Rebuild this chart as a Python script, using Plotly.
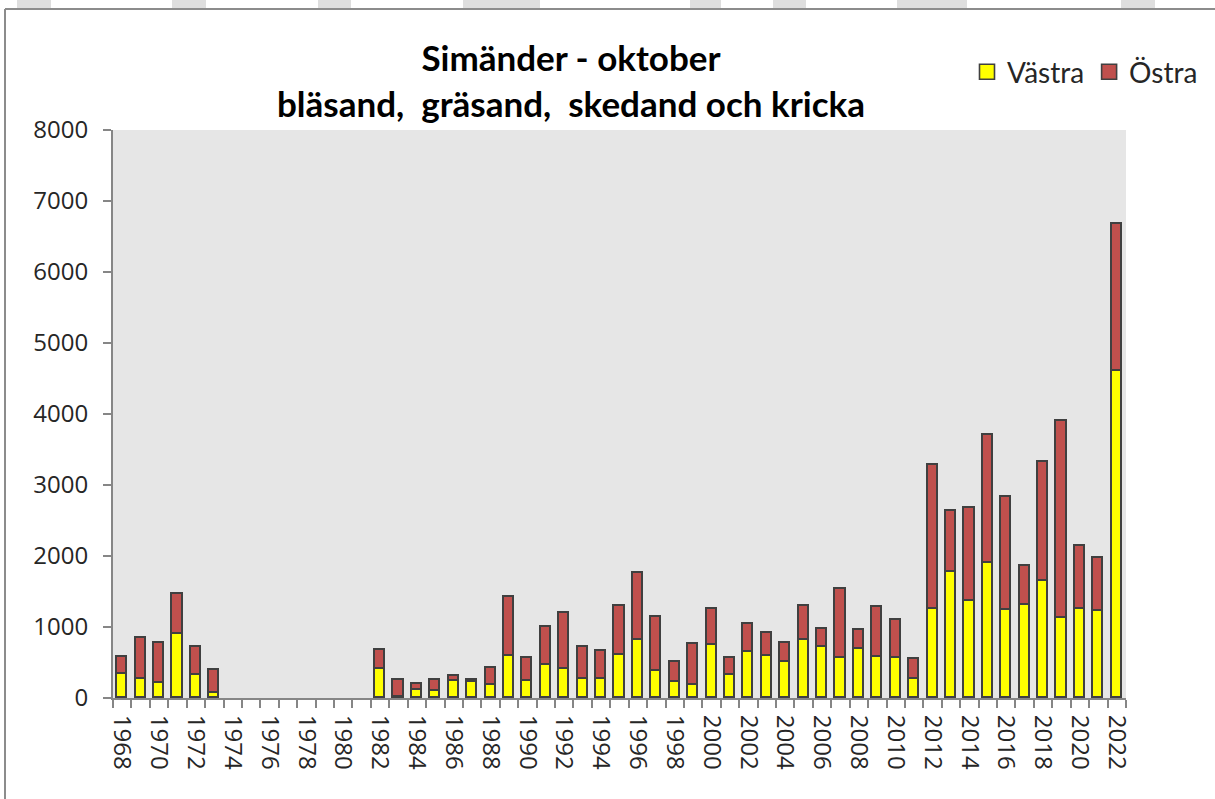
import plotly.graph_objects as go

years = list(range(1968, 2023))
vastra = [342, 272, 215, 904, 318, 75,
          None, None, None, None, None, None, None, None,
          403, 20, 112, 94, 234, 220, 183,
          595, 235, 469, 412, 267, 267, 609, 811, 380, 229,
          183, 741, 323, 651, 595, 506, 811, 724, 560, 689,
          581, 562, 271, 1252, 1776, 1373, 1907, 1238, 1303, 1654,
          1124, 1252, 1232, 4603]
totals = [577, 848, 773, 1467, 722, 398,
          None, None, None, None, None, None, None, None,
          675, 253, 197, 253, 309, 253, 420,
          1425, 558, 994, 1191, 717, 665, 1298, 1754, 1135, 502,
          759, 1247, 558, 1045, 918, 773, 1298, 970, 1535, 952,
          1280, 1097, 553, 3286, 2634, 2672, 3699, 2836, 1861, 3319,
          3900, 2147, 1969, 6681]
ostra = [None if t is None else t - v for t, v in zip(totals, vastra)]
label_years = list(range(1968, 2023, 2))
y_ticks = list(range(0, 8001, 1000))

W, H = 1215, 799
ML, MR, MT, MB = 113, 89, 130, 101
PW, PH = W - ML - MR, H - MT - MB


def fx(px):
    return (px - ML) / PW


def fy(py):
    return (H - MB - py) / PH


outline = dict(color="#404040", width=1.6)
colors = {"Västra": "#FFFF00", "Östra": "#C0504D"}
fig = go.Figure()
for name, vals in [("Västra", vastra), ("Östra", ostra)]:
    fig.add_trace(go.Bar(x=years, y=vals, name=name, legendgroup=name,
                         showlegend=False,
                         marker=dict(color=colors[name], line=outline), width=0.55))
for name in ["Västra", "Östra"]:
    fig.add_trace(go.Scatter(x=[None], y=[None], mode="markers", name=name,
                             legendgroup=name, showlegend=True,
                             marker=dict(symbol="square", size=15, color=colors[name],
                                         line=dict(color="#404040", width=1.6))))

axis_col = "#868686"
tick_font = dict(family="Open Sans, Noto Sans, sans-serif", size=24, color="#262626")

shapes = []
shapes.append(dict(type="line", xref="paper", yref="paper",
                   x0=fx(5), x1=fx(5), y0=fy(9), y1=fy(805),
                   line=dict(color="#8c8c8c", width=2)))
shapes.append(dict(type="line", xref="paper", yref="paper",
                   x0=fx(5), x1=fx(1220), y0=fy(9), y1=fy(9),
                   line=dict(color="#8c8c8c", width=2)))
for a, b in [(17, 51), (172, 206), (318, 351), (463, 540), (690, 721),
             (773, 806), (897, 967), (1121, 1155)]:
    shapes.append(dict(type="rect", xref="paper", yref="paper",
                       x0=fx(a), x1=fx(b), y0=fy(8), y1=fy(-2),
                       fillcolor="#DEDEDE", line=dict(width=0), layer="below"))

fig.update_layout(
    width=W, height=H,
    margin=dict(l=ML, r=MR, t=MT, b=MB),
    barmode="stack",
    paper_bgcolor="white",
    plot_bgcolor="#E6E6E6",
    title=dict(text="Simänder - oktober<br>bläsand,  gräsand,  skedand och kricka",
               font=dict(family="Lato, sans-serif", size=35, color="black", weight="bold"),
               x=571 / W, xanchor="center", xref="container",
               y=1 - 71 / H, yanchor="top", yref="container"),
    legend=dict(orientation="h", x=1203 / W, xanchor="right", xref="container",
                y=1 - 72 / H, yanchor="middle", yref="container",
                font=dict(family="Lato, sans-serif", size=28, color="#262626"),
                itemwidth=30, traceorder="normal", bgcolor="rgba(0,0,0,0)"),
    xaxis=dict(range=[1967.5, 2022.5], tickmode="array", tickvals=label_years,
               ticktext=[str(y) for y in label_years], tickangle=90,
               ticks="", showline=True, linecolor=axis_col, linewidth=2,
               showgrid=False, zeroline=False, tickfont=tick_font,
               ticklabelstandoff=10,
               minor=dict(tick0=1967.5, dtick=1, ticks="outside", ticklen=8,
                          tickcolor=axis_col, tickwidth=2, showgrid=False)),
    yaxis=dict(range=[0, 8000], tickmode="array", tickvals=y_ticks,
               ticks="outside", ticklen=8, tickcolor=axis_col, tickwidth=2,
               showline=True, linecolor=axis_col, linewidth=2,
               showgrid=False, zeroline=False, tickfont=tick_font,
               ticklabelstandoff=10),
    shapes=shapes,
    bargap=0,
)

fig.write_html("out.html", config={"displayModeBar": False},
               post_script="document.body.style.margin='0';")
